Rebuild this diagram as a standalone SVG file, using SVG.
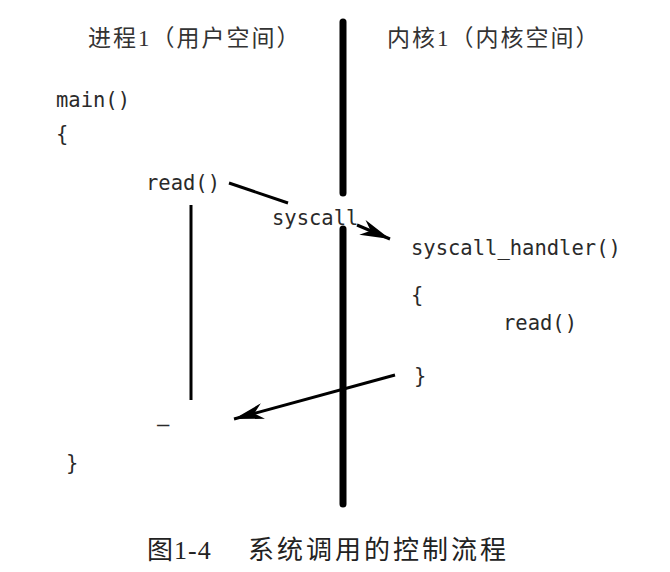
<svg xmlns="http://www.w3.org/2000/svg" width="670" height="572" viewBox="0 0 670 572">
<defs>
<style>
.code{font-family:"DejaVu Sans Mono","Liberation Mono",monospace;font-size:20.5px;fill:#2a2a2a}
.cjk{font-family:"Liberation Serif","Noto Sans CJK SC",serif;font-size:23px;letter-spacing:2px;fill:#333}
.cap{font-family:"Liberation Serif","Noto Sans CJK SC",serif;font-size:26px;fill:#222}
.ln{stroke:#000;fill:none}
</style>
<marker id="ah2" viewBox="0 0 10 10" refX="10" refY="5" markerWidth="30" markerHeight="16" markerUnits="userSpaceOnUse" orient="auto" preserveAspectRatio="none">
<path d="M0,0 L10,5 L0,10 L3,5 z" fill="#000"/>
</marker>
</defs>
<rect width="670" height="572" fill="#fff"/>
<g id="headers">
<text class="cjk" x="88" y="46">进程1（用户空间）</text>
<text class="cjk" x="387" y="46">内核1（内核空间）</text>
</g>
<g id="divider">
<line class="ln" x1="343" y1="22" x2="343" y2="193" stroke-width="7" stroke-linecap="round"/>
<line class="ln" x1="343" y1="229" x2="343" y2="504" stroke-width="7" stroke-linecap="round"/>
</g>
<g id="user-code">
<text class="code" x="56" y="107">main()</text>
<text class="code" x="56" y="141">{</text>
<text class="code" x="146" y="190">read()</text>
<text class="code" x="157" y="431" fill="#999">–</text>
<text class="code" x="66" y="470">}</text>
</g>
<g id="syscall-label">
<text class="code" x="272" y="225">syscall</text>
</g>
<g id="kernel-code">
<text class="code" x="411" y="255">syscall_handler()</text>
<text class="code" x="411" y="302">{</text>
<text class="code" x="503" y="330">read()</text>
<text class="code" x="414" y="383">}</text>
</g>
<g id="connectors">
<line class="ln" x1="229" y1="183" x2="288" y2="203" stroke-width="3"/>
<line class="ln" x1="357" y1="225" x2="390" y2="239" stroke-width="3" marker-end="url(#ah2)"/>
<line class="ln" x1="191" y1="205" x2="191" y2="400" stroke-width="3"/>
<line class="ln" x1="395" y1="375" x2="234" y2="419" stroke-width="3" marker-end="url(#ah2)"/>
</g>
<g id="caption">
<text class="cap" x="147" y="559" letter-spacing="1">图1-4</text>
<text class="cap" x="248" y="559" letter-spacing="3">系统调用的控制流程</text>
</g>
</svg>
